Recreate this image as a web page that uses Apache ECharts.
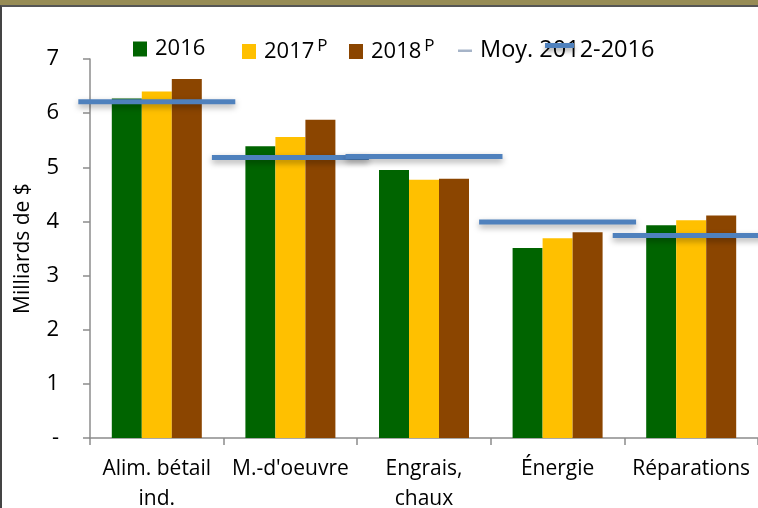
<!DOCTYPE html>
<html>
<head>
<meta charset="utf-8">
<script src="https://cdn.jsdelivr.net/npm/echarts@6/dist/echarts.min.js"></script>
<style>
  html, body { margin: 0; padding: 0; background: #fff; }
  #frame { width: 758px; height: 508px; background: #978c55; padding-top: 5px; box-sizing: border-box; }
  #inner { width: 758px; height: 503px; background: #fff; border-top: 2px solid #555; border-left: 2px solid #444; box-sizing: border-box; position: relative; }
  #main { position: absolute; left: -2px; top: -7px; width: 758px; height: 508px; }
</style>
</head>
<body>
<div id="frame"><div id="inner"><div id="main"></div></div></div>
<script>
var categories = ["Alim. bétail\nind.", "M.-d'oeuvre", "Engrais,\nchaux", "Énergie", "Réparations"];
var s2016 = [6.27, 5.39, 4.95, 3.51, 3.93];
var s2017 = [6.40, 5.56, 4.77, 3.69, 4.02];
var s2018 = [6.63, 5.88, 4.79, 3.80, 4.11];
var moyenne = [6.21, 5.18, 5.20, 3.99, 3.74];
var yTicks = ["-", "1", "2", "3", "4", "5", "6", "7"];

var font = "'Open Sans', Lato, sans-serif";
var myChart = echarts.init(document.getElementById("main"));

// une légende par item pour garder l'espacement d'Excel
function legendItem(left, size, item) {
  return {
    top: 38,
    left: left,
    padding: 0,
    itemWidth: 14,
    itemHeight: 15,
    textStyle: {
      fontFamily: font,
      fontSize: size,
      lineHeight: 16,
      color: "#000",
      padding: [0, 0, 0, 3],
      rich: {
        sup: { fontSize: 17, fontFamily: font, color: "#000", lineHeight: 16, padding: [0, 0, 10, 3] }
      }
    },
    formatter: function (name) {
      if (name === "2017" || name === "2018") return name + "{sup|P}";
      return name;
    },
    data: [item]
  };
}

myChart.setOption({
  animation: false,
  textStyle: { fontFamily: font, color: "#000" },
  grid: { left: 90, right: 0, top: 59, bottom: 70, outerBoundsMode: "none" },
  legend: [
    legendItem(133, 22, { name: "2016", icon: "rect" }),
    legendItem(242, 22, { name: "2017", icon: "rect" }),
    legendItem(349, 22, { name: "2018", icon: "rect" }),
    legendItem(458, 23.5, { name: "Moy. 2012-2016", icon: "path://M0,0 L0,0 M0,7 L14,7 L14,9.5 L0,9.5 Z M0,15 L0,15", itemStyle: { color: "#a6b4c8" } })
  ],
  xAxis: [{
    type: "category",
    data: categories,
    axisLine: { lineStyle: { color: "#8c8c8c", width: 1.5 } },
    axisTick: { show: true, length: 7, lineStyle: { color: "#8c8c8c", width: 1.5 } },
    axisLabel: { fontSize: 21, color: "#000", fontFamily: font, margin: 16, lineHeight: 30, interval: 0 }
  }],
  yAxis: {
    type: "value",
    min: 0,
    max: 7,
    interval: 1,
    name: "Milliards de $",
    nameLocation: "middle",
    nameGap: 56,
    nameTextStyle: { fontSize: 21, color: "#000", fontFamily: font },
    splitLine: { show: false },
    axisLine: { show: true, lineStyle: { color: "#8c8c8c", width: 1.5 } },
    axisTick: { show: true, length: 7, lineStyle: { color: "#8c8c8c", width: 1.5 } },
    axisLabel: {
      fontSize: 22, color: "#000", fontFamily: font, margin: 31,
      formatter: function (v) { return yTicks[Math.round(v)]; }
    }
  },
  series: [
    { name: "2016", type: "bar", data: s2016, barWidth: 30, barGap: "0%", itemStyle: { color: "#006400" } },
    { name: "2017", type: "bar", data: s2017, barWidth: 30, barGap: "0%", itemStyle: { color: "#ffc000" } },
    { name: "2018", type: "bar", data: s2018, barWidth: 30, barGap: "0%", itemStyle: { color: "#8b4500" } },
    {
      name: "Moy. 2012-2016",
      type: "custom",
      z: 5,
      itemStyle: { color: "#4f81bd" },
      data: moyenne.map(function (v, i) { return [i, v]; }),
      renderItem: function (params, api) {
        var c = api.coord([api.value(0), api.value(1)]);
        var w = api.size([1, 0])[0] * 1.175;
        return {
          type: "line",
          shape: { x1: c[0] - w / 2, y1: c[1], x2: c[0] + w / 2, y2: c[1] },
          style: {
            stroke: "#4f81bd", lineWidth: 5,
            shadowBlur: 6, shadowColor: "rgba(0,0,0,0.35)", shadowOffsetY: 3
          }
        };
      }
    }
  ],
  graphic: [{
    type: "rect",
    left: 545, top: 43,
    shape: { width: 29, height: 5 },
    style: { fill: "#4f81bd", shadowBlur: 5, shadowColor: "rgba(0,0,0,0.35)", shadowOffsetY: 3 },
    z: 10
  }]
});
</script>
</body>
</html>
